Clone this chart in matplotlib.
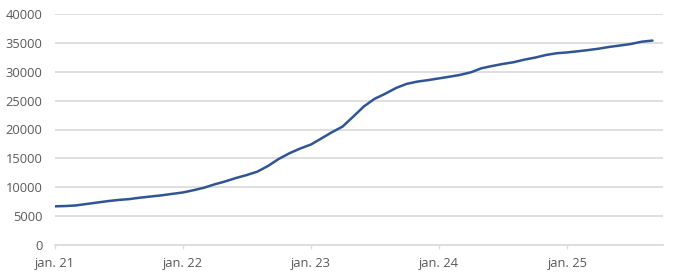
import matplotlib
matplotlib.use("Agg")
import matplotlib.pyplot as plt
import pandas as pd

months = pd.date_range("2021-01-01", periods=57, freq="MS")
values = [
    6700, 6750, 6850, 7100, 7350, 7600, 7800, 7950, 8200, 8400, 8600, 8850,
    9100, 9500, 9900, 10500, 11000, 11600, 12100, 12700, 13700, 14900, 15900, 16700,
    17400, 18500, 19500, 20500, 22200, 24000, 25300, 26200, 27200, 27900, 28300, 28550,
    28850, 29150, 29450, 29900, 30600, 31000, 31350, 31650, 32100, 32450, 32900, 33200,
    33350, 33550, 33750, 34000, 34300, 34550, 34800, 35200, 35400,
]
x_tick_dates = pd.to_datetime(["2021-01-01", "2022-01-01", "2023-01-01", "2024-01-01", "2025-01-01"])
x_tick_labels = ["jan. 21", "jan. 22", "jan. 23", "jan. 24", "jan. 25"]
y_ticks = [0, 5000, 10000, 15000, 20000, 25000, 30000, 35000, 40000]

plt.rcParams['font.family'] = ['Open Sans', 'DejaVu Sans']

fig = plt.figure(figsize=(6.79, 2.8), dpi=100)
ax = fig.add_axes([55/679, 35/280, (663-55)/679, (245-14)/280])

ax.plot(months, values, color="#2F5597", linewidth=1.8, solid_capstyle="round", zorder=3)

ax.set_ylim(0, 40000)
ax.set_yticks(y_ticks)
ax.set_yticklabels([str(v) for v in y_ticks])
ax.set_xlim(pd.Timestamp("2021-01-01"), pd.Timestamp("2025-10-01"))
ax.set_xticks(x_tick_dates)
ax.set_xticklabels(x_tick_labels)

ax.grid(axis="y", color="#DCDCDC", linewidth=1.3, zorder=0)
ax.grid(axis="x", visible=False)
for s in ["left", "right", "top"]:
    ax.spines[s].set_visible(False)
ax.spines["bottom"].set_color("#DCDCDC")
ax.spines["bottom"].set_linewidth(1.3)

ax.tick_params(axis="y", length=0, pad=9, labelsize=9.3, labelcolor="#595959")
ax.tick_params(axis="x", length=3, width=1, color="#DCDCDC", pad=6, labelsize=9.3, labelcolor="#595959")

fig.savefig("out.png", dpi=100)
